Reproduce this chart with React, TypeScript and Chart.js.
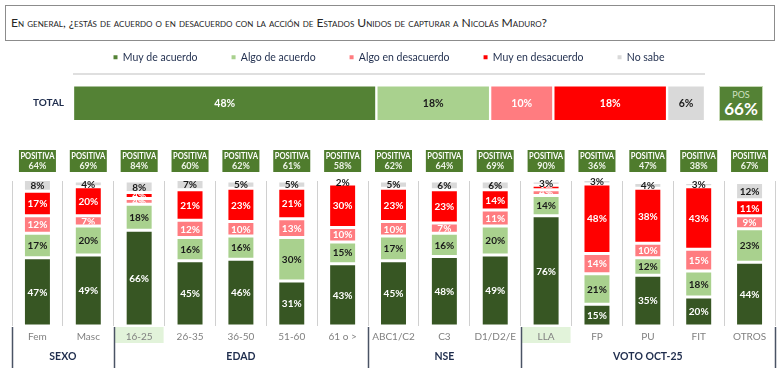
import React, { useEffect, useRef } from "react";
import { Chart, registerables } from "chart.js";
Chart.register(...registerables);

const titleText =
  "En general, ¿estás de acuerdo o en desacuerdo con la acción de Estados Unidos de capturar a Nicolás Maduro?";
const seriesNames = ["Muy de acuerdo", "Algo de acuerdo", "Algo en desacuerdo", "Muy en desacuerdo", "No sabe"];
const totalColors = ["#548235", "#a9d18e", "#ff7c80", "#ff0000", "#d9d9d9"];
const colColors = ["#375623", "#a9d18e", "#ff7c80", "#ff0000", "#d9d9d9"];
const labelColors = ["#ffffff", "#1a1a1a", "#ffffff", "#ffffff", "#1a1a1a"];

const totalLabel = ["TOTAL"];
const totalValues = [48, 18, 10, 18, 6];
const totalPos = 66;

const categories = ["Fem", "Masc", "16-25", "26-35", "36-50", "51-60", "61 o >", "ABC1/C2", "C3", "D1/D2/E", "LLA", "FP", "PU", "FIT", "OTROS"];
const muyDeAcuerdo = [47, 49, 66, 45, 46, 31, 43, 45, 48, 49, 76, 15, 35, 20, 44];
const algoDeAcuerdo = [17, 20, 18, 16, 16, 30, 15, 17, 16, 20, 14, 21, 12, 18, 23];
const algoEnDesacuerdo = [12, 7, 4, 12, 10, 13, 10, 10, 7, 11, 4, 14, 10, 15, 9];
const muyEnDesacuerdo = [17, 20, 4, 21, 23, 21, 30, 23, 23, 14, 3, 48, 38, 43, 11];
const noSabe = [8, 4, 8, 7, 5, 5, 2, 5, 6, 6, 3, 3, 4, 3, 12];
const positiva = [64, 69, 84, 60, 62, 61, 58, 62, 64, 69, 90, 36, 47, 38, 67];

const groupNames = ["SEXO", "EDAD", "NSE", "VOTO OCT-25"];
const groupStarts = [0, 2, 7, 10];
const groupEnds = [1, 6, 9, 14];
const highlighted = ["16-25", "LLA"];

const FONT = "Lato, 'Noto Sans', sans-serif";

const segLabels = {
  id: "segLabels",
  afterDatasetsDraw(chart: any, _args: any, opts: any) {
    const ctx = chart.ctx;
    chart.data.datasets.forEach((ds: any, di: number) => {
      const meta = chart.getDatasetMeta(di);
      meta.data.forEach((el: any, i: number) => {
        const v = ds.data[i];
        if (v == null) return;
        const p = el.getProps(["x", "y", "base", "width", "height", "horizontal"], true);
        let left, right, top, bottom;
        if (p.horizontal) {
          left = Math.min(p.base, p.x);
          right = Math.max(p.base, p.x);
          top = p.y - p.height / 2;
          bottom = p.y + p.height / 2;
        } else {
          left = p.x - p.width / 2;
          right = p.x + p.width / 2;
          top = Math.min(p.y, p.base);
          bottom = Math.max(p.y, p.base);
        }
        ctx.save();
        if (di !== chart.data.datasets.length - 1) {
          ctx.beginPath();
          ctx.rect(left, top + 1.5, right - left, bottom - top - 3);
          ctx.clip();
        }
        ctx.fillStyle = labelColors[di];
        ctx.font = opts.font;
        ctx.textAlign = "center";
        ctx.textBaseline = "middle";
        ctx.fillText(v + "%", (left + right) / 2, (top + bottom) / 2 + 0.5);
        ctx.restore();
      });
    });
  },
};

const totalLine = {
  id: "totalLine",
  afterDraw(chart: any) {
    const { ctx, chartArea } = chart;
    ctx.save();
    ctx.strokeStyle = "#bfbfbf";
    ctx.lineWidth = 1;
    ctx.beginPath();
    ctx.moveTo(chartArea.left, chartArea.top + 1.5);
    ctx.lineTo(chartArea.right, chartArea.top + 1.5);
    ctx.stroke();
    ctx.restore();
  },
};

function boundary(x: any, area: any, idx: number) {
  if (idx <= 0) return area.left;
  if (idx >= categories.length) return area.right;
  return (x.getPixelForValue(idx - 1) + x.getPixelForValue(idx)) / 2;
}

const colDecor = {
  id: "colDecor",
  beforeDraw(chart: any) {
    const { ctx, chartArea } = chart;
    const x = chart.scales.x;
    ctx.save();
    ctx.fillStyle = "#e2f3da";
    categories.forEach((c, i) => {
      if (highlighted.indexOf(c) >= 0) {
        const l = boundary(x, chartArea, i);
        const r = boundary(x, chartArea, i + 1);
        ctx.fillRect(l + 1, chartArea.bottom + 1, r - l - 2, 16);
      }
    });
    ctx.restore();
  },
  afterDraw(chart: any) {
    const { ctx, chartArea } = chart;
    const x = chart.scales.x;
    ctx.save();
    ctx.strokeStyle = "#4a5364";
    ctx.lineWidth = 1.5;
    const seps = [0, ...groupEnds.map((e) => e + 1)];
    seps.forEach((s) => {
      const bx = Math.round(boundary(x, chartArea, s)) + 0.5;
      ctx.beginPath();
      ctx.moveTo(bx, chartArea.bottom + 1);
      ctx.lineTo(bx, chartArea.bottom + 42);
      ctx.stroke();
    });
    ctx.fillStyle = "#1f2d4d";
    ctx.font = "bold 10.5px " + FONT;
    ctx.textAlign = "center";
    ctx.textBaseline = "middle";
    groupNames.forEach((g, gi) => {
      const cx = (x.getPixelForValue(groupStarts[gi]) + x.getPixelForValue(groupEnds[gi])) / 2;
      ctx.fillText(g, cx, chartArea.bottom + 31);
    });
    positiva.forEach((v, i) => {
      const cx = x.getPixelForValue(i);
      ctx.fillStyle = "#4f7c2d";
      ctx.fillRect(cx - 18.5, 10, 37, 22);
      ctx.fillStyle = "#ffffff";
      ctx.font = "bold 8.5px " + FONT;
      ctx.fillText("POSITIVA", cx, 16, 34);
      ctx.font = "bold 9px " + FONT;
      ctx.fillStyle = "#eef4e8";
      ctx.fillText(v + "%", cx, 26.5);
    });
    ctx.restore();
  },
};

export default function App() {
  const totalRef = useRef<HTMLCanvasElement>(null);
  const colRef = useRef<HTMLCanvasElement>(null);

  useEffect(() => {
    document.body.style.margin = "0";
    const c1 = new Chart(totalRef.current as HTMLCanvasElement, {
      type: "bar",
      data: {
        labels: totalLabel,
        datasets: seriesNames.map((n, i) => ({
          label: n,
          data: [totalValues[i]],
          backgroundColor: totalColors[i],
          borderColor: "#ffffff",
          borderWidth: 1.5,
          borderSkipped: false,
          barThickness: 36,
        })),
      },
      options: {
        indexAxis: "y",
        animation: false,
        responsive: false,
        maintainAspectRatio: false,
        layout: { padding: { left: 73, right: 75, top: 0, bottom: 0 } },
        plugins: {
          tooltip: { enabled: false },
          legend: {
            display: true,
            position: "top",
            labels: {
              boxWidth: 4,
              boxHeight: 4,
              padding: 34,
              color: "#1f2d4d",
              font: { family: FONT, size: 10.5 },
              generateLabels: (chart: any) =>
                chart.data.datasets.map((ds: any, i: number) => ({
                  text: ds.label,
                  fillStyle: totalColors[i],
                  strokeStyle: totalColors[i],
                  lineWidth: 0,
                  hidden: false,
                  datasetIndex: i,
                  fontColor: "#1f2d4d",
                })),
            },
          },
          segLabels: { font: "bold 10.5px " + FONT },
        } as any,
        scales: {
          x: { stacked: true, display: false, min: 0, max: 100 },
          y: {
            stacked: true,
            grid: { display: false, drawTicks: false },
            border: { display: false },
            ticks: { mirror: true, padding: -40, color: "#1f2d4d", font: { family: FONT, size: 10, weight: "bold" } },
            afterFit: (s: any) => {
              s.width = 0;
            },
          },
        },
      },
      plugins: [segLabels, totalLine],
    });

    const seriesData = [muyDeAcuerdo, algoDeAcuerdo, algoEnDesacuerdo, muyEnDesacuerdo, noSabe];
    const c2 = new Chart(colRef.current as HTMLCanvasElement, {
      type: "bar",
      data: {
        labels: categories,
        datasets: seriesNames.map((n, i) => ({
          label: n,
          data: seriesData[i],
          backgroundColor: colColors[i],
          borderColor: "#ffffff",
          borderWidth: 1.5,
          borderSkipped: false,
          categoryPercentage: 1,
          barPercentage: 0.55,
          clip: false as any,
        })),
      },
      options: {
        animation: false,
        responsive: false,
        maintainAspectRatio: false,
        layout: { padding: { left: 12, right: 5, top: 41, bottom: 0 } },
        plugins: {
          tooltip: { enabled: false },
          legend: { display: false },
          segLabels: { font: "bold 10px " + FONT },
        } as any,
        scales: {
          x: {
            stacked: true,
            grid: { display: true, offset: true, drawTicks: false, color: "#d0d0d0", lineWidth: 1 },
            border: { display: false },
            ticks: { color: "#808080", padding: 5, autoSkip: false, maxRotation: 0, font: { family: FONT, size: 10 } },
            afterFit: (s: any) => {
              s.height = 47;
            },
          },
          y: { stacked: true, display: false, min: 0, max: 100 },
        },
      },
      plugins: [segLabels, colDecor],
    });
    return () => {
      c1.destroy();
      c2.destroy();
    };
  }, []);

  return (
    <div style={{ position: "relative", width: 780, height: 373, background: "#ffffff", overflow: "hidden" }}>
      <div
        style={{
          position: "absolute",
          left: 5,
          top: 5,
          width: 768,
          height: 34,
          border: "1px solid #8c8c8c",
          boxSizing: "content-box",
          fontFamily: FONT,
          fontSize: 12.1,
          fontVariant: "small-caps",
          color: "#262626",
          lineHeight: "34px",
        }}
      >
        <span style={{ marginLeft: 5 }}>{titleText}</span>
      </div>
      <canvas ref={totalRef} width={780} height={116} style={{ position: "absolute", left: 0, top: 18, display: "block" }} />
      <div
        style={{
          position: "absolute",
          left: 719,
          top: 86,
          width: 44,
          height: 35,
          background: "#548235",
          border: "1px solid #c5d8b4",
          boxSizing: "border-box",
          textAlign: "center",
          fontFamily: FONT,
          color: "#ffffff",
        }}
      >
        <div style={{ fontSize: 9, lineHeight: "11px", marginTop: 2, color: "#cfe0c0" }}>POS</div>
        <div style={{ fontSize: 17, lineHeight: "18px", fontWeight: 700 }}>{totalPos}%</div>
      </div>
      <canvas ref={colRef} width={780} height={233} style={{ position: "absolute", left: 0, top: 140, display: "block" }} />
    </div>
  );
}
